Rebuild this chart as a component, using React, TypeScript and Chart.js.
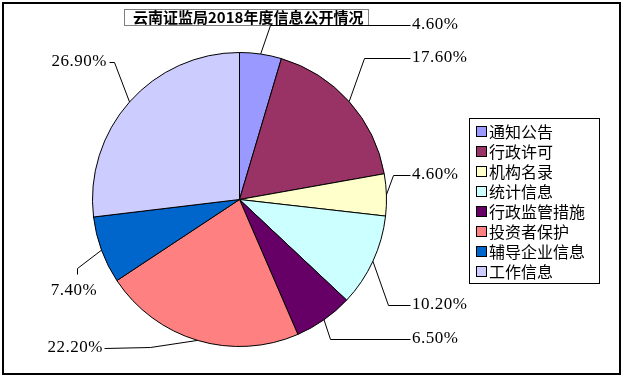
import React, { useEffect, useRef } from "react";
import { Chart, registerables } from "chart.js";

Chart.register(...registerables);

const title = "云南证监局2018年度信息公开情况";
const categories = ["通知公告", "行政许可", "机构名录", "统计信息", "行政监管措施", "投资者保护", "辅导企业信息", "工作信息"];
const values = [4.6, 17.6, 4.6, 10.2, 6.5, 22.2, 7.4, 26.9];
const colors = ["#9999FF", "#993366", "#FFFFCC", "#CCFFFF", "#660066", "#FF8080", "#0066CC", "#CCCCFF"];

// label layout (elbow point, line end, text anchor, alignment)
const labelLayout = [
  { elbow: [270, 25], end: [410, 25], text: [412, 25], align: "left" },
  { elbow: [364, 58], end: [410, 58], text: [412, 58], align: "left" },
  { elbow: [393, 175], end: [410, 175], text: [412, 175], align: "left" },
  { elbow: [388, 305], end: [410, 305], text: [412, 305], align: "left" },
  { elbow: [330, 339], end: [410, 339], text: [412, 339], align: "left" },
  { elbow: [150, 347], end: [104, 348], text: [103, 348], align: "right" },
  { elbow: [77, 268], end: [77, 274], text: [74, 291], align: "center" },
  { elbow: [114, 62], end: [109, 62], text: [107, 62], align: "right" },
];

const decorPlugin = {
  id: "decor",
  afterDraw(chart: any) {
    const ctx = chart.ctx as CanvasRenderingContext2D;
    ctx.save();
    // outer border
    ctx.strokeStyle = "#000";
    ctx.lineWidth = 2;
    ctx.strokeRect(3, 3, 617, 371);

    // title box (dotted)
    ctx.lineWidth = 1;
    ctx.setLineDash([1, 1]);
    ctx.strokeStyle = "#000";
    ctx.strokeRect(124.5, 9.5, 244, 16);
    ctx.setLineDash([]);
    ctx.fillStyle = "#000";
    ctx.font = "bold 15px 'Noto Sans CJK SC'";
    ctx.textAlign = "left";
    ctx.textBaseline = "middle";
    ctx.fillText(title, 133, 17.5);

    // leader lines and labels
    const meta = chart.getDatasetMeta(0);
    ctx.font = "17px 'Liberation Serif'";
    (ctx as any).letterSpacing = "0.5px";
    meta.data.forEach((arc: any, i: number) => {
      const lay = labelLayout[i];
      if (!lay) return;
      const mid = (arc.startAngle + arc.endAngle) / 2;
      const px = arc.x + Math.cos(mid) * arc.outerRadius;
      const py = arc.y + Math.sin(mid) * arc.outerRadius;
      ctx.beginPath();
      ctx.moveTo(px, py);
      ctx.lineTo(lay.elbow[0] + 0.5, lay.elbow[1] + 0.5);
      ctx.lineTo(lay.end[0] + 0.5, lay.end[1] + 0.5);
      ctx.strokeStyle = "#000";
      ctx.lineWidth = 1;
      ctx.stroke();
      ctx.textAlign = lay.align as CanvasTextAlign;
      ctx.textBaseline = "middle";
      ctx.fillStyle = "#000";
      ctx.fillText(values[i].toFixed(2) + "%", lay.text[0], lay.text[1]);
    });
    (ctx as any).letterSpacing = "0px";

    // legend
    ctx.strokeStyle = "#000";
    ctx.lineWidth = 1;
    ctx.fillStyle = "#fff";
    ctx.fillRect(469.5, 118.5, 130, 165);
    ctx.strokeRect(469.5, 118.5, 130, 165);
    ctx.font = "16px 'Noto Sans CJK SC'";
    ctx.textAlign = "left";
    ctx.textBaseline = "middle";
    categories.forEach((c, i) => {
      const cy = 132 + i * 20;
      ctx.fillStyle = colors[i];
      ctx.fillRect(476.5, cy - 5.5, 10, 10);
      ctx.strokeStyle = "#000";
      ctx.strokeRect(476.5, cy - 5.5, 10, 10);
      ctx.fillStyle = "#000";
      ctx.fillText(c, 489, cy);
    });
    ctx.restore();
  },
};

export default function App() {
  const ref = useRef<HTMLCanvasElement>(null);
  useEffect(() => {
    const chart = new Chart(ref.current as HTMLCanvasElement, {
      type: "pie",
      data: {
        labels: categories,
        datasets: [
          {
            data: values,
            backgroundColor: colors,
            borderColor: "#000",
            borderWidth: 1,
          },
        ],
      },
      options: {
        responsive: false,
        animation: false,
        layout: { padding: { left: 92, right: 237, top: 52, bottom: 30 } },
        plugins: {
          legend: { display: false },
          tooltip: { enabled: false },
          title: { display: false },
        },
      },
      plugins: [
        {
          id: "bg",
          beforeDraw(c: any) {
            const ctx = c.ctx;
            ctx.save();
            ctx.fillStyle = "#fff";
            ctx.fillRect(0, 0, c.width, c.height);
            ctx.restore();
          },
        },
        decorPlugin,
      ],
    });
    return () => chart.destroy();
  }, []);
  return (
    <div style={{ position: "fixed", left: 0, top: 0, width: 624, height: 377, background: "#fff" }}>
      <canvas ref={ref} width={624} height={377} style={{ display: "block" }} />
    </div>
  );
}
